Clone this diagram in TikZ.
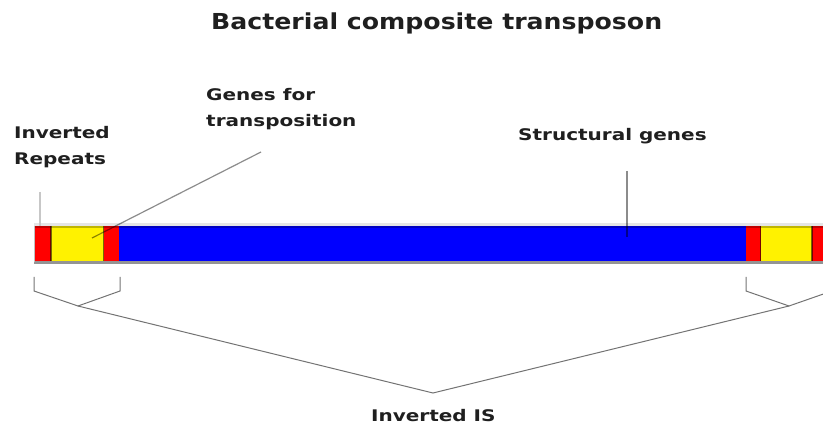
\documentclass[tikz,border=0pt]{standalone}
\usepackage{fontspec}
\setmainfont{DejaVu Sans}
\newfontfamily\lblfont[FakeStretch=1.25]{DejaVu Sans Bold}
\newfontfamily\ttlfont[FakeStretch=1.145]{DejaVu Sans Bold}
\begin{document}
\begin{tikzpicture}[x=1pt,y=-1pt,
  lbl/.style={anchor=base west,inner sep=0pt,font=\lblfont\fontsize{16}{26}\selectfont,text=black!88},
  ttl/.style={anchor=base west,inner sep=0pt,font=\ttlfont\fontsize{22}{26}\selectfont,text=black!88},
  lead/.style={draw=black,opacity=0.45,line width=1.2pt},
  brace/.style={draw=black!55,line width=1pt,line join=miter},
  sep/.style={draw=black,opacity=0.55,line width=1.6pt}]
\useasboundingbox (0,0) rectangle (823,425);
% title and labels
\node[ttl] (title) at (211,30) {Bacterial composite transposon};
\node[lbl] (ir1) at (14,139) {Inverted};
\node[lbl] (ir2) at (14,165) {Repeats};
\node[lbl] (gt1) at (206,101) {Genes for};
\node[lbl] (gt2) at (206,127) {transposition};
\node[lbl] (sg) at (518,141) {Structural genes};
\node[lbl] (iis) at (371,421) {Inverted IS};
% bar
\fill[black!10] (34,223) rectangle (823,226);
\fill[black!42] (34,260.5) rectangle (823,264);
\fill[black!25] (33.5,226) rectangle (35,262);
\fill[red] (35,226) rectangle (51,261);
\fill[yellow] (51,226) rectangle (103.5,261);
\fill[red] (103.5,226) rectangle (119,261);
\fill[blue] (119,226) rectangle (746,261);
\fill[red] (746,226) rectangle (760.5,261);
\fill[yellow] (760.5,226) rectangle (812,261);
\fill[red] (812,226) rectangle (823,261);
\draw[black,opacity=0.25,line width=2pt] (35,227) -- (823,227);
\foreach \xx in {51,103.5,760.5,812}
  \draw[sep] (\xx,226) -- (\xx,261);
% leader lines
\coordinate (irtop) at (40,192);
\coordinate (irbot) at (40,226);
\draw[black!22,line width=2pt] (irtop) -- (irbot);
\coordinate (gttop) at (261,152);
\coordinate (gtbot) at (92,238);
\draw[lead] (gttop) -- (gtbot);
\coordinate (sgtop) at (627,171);
\coordinate (sgbot) at (627,237);
\draw[lead] (sgtop) -- (sgbot);
% braces
\coordinate (la) at (78,306);
\coordinate (ra) at (789,306);
\coordinate (apex) at (433,393);
\draw[brace] (34,277) -- (34,291) -- (la) -- (120,291) -- (120,277);
\draw[brace] (746,277) -- (746,291) -- (ra) -- (832,291);
\draw[brace] (la) -- (apex) -- (ra);
\end{tikzpicture}
\end{document}
